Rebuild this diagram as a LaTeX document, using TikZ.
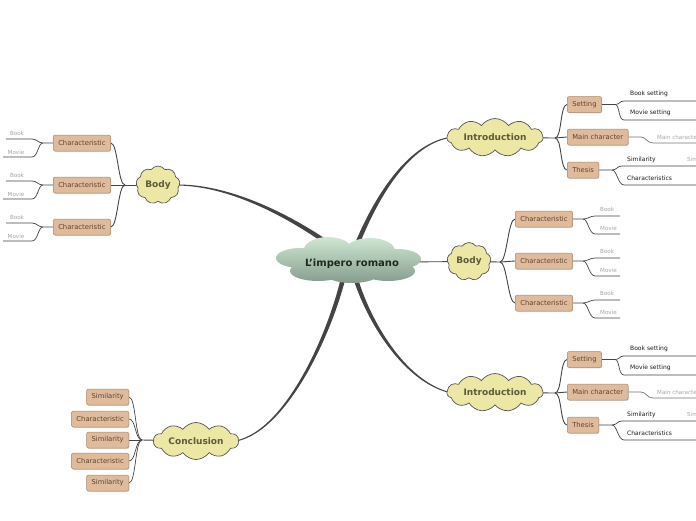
\documentclass[tikz,border=0pt]{standalone}
\usepackage{fontspec}
\setmainfont{DejaVu Sans}
\usetikzlibrary{shapes.symbols,shadows,backgrounds,calc}
\definecolor{yfill}{RGB}{236,231,165}
\definecolor{yline}{RGB}{85,85,85}
\definecolor{ytext}{RGB}{92,90,56}
\definecolor{bfill}{RGB}{223,187,156}
\definecolor{bline}{RGB}{170,135,105}
\definecolor{btext}{RGB}{95,68,48}
\definecolor{gtop}{RGB}{206,232,210}
\definecolor{gbot}{RGB}{134,156,142}
\definecolor{brc}{RGB}{68,68,68}
\definecolor{ltext}{RGB}{165,165,165}
\definecolor{ctext}{RGB}{28,42,28}
\begin{document}
\begin{tikzpicture}[x=1pt,y=-1pt,
  ycloud/.style={cloud, cloud ignores aspect, cloud puffs=#1, cloud puff arc=110, draw=yline, fill=yfill,
    line width=0.7pt, text=ytext, font=\fontsize{9}{10}\selectfont\bfseries, inner sep=0pt},
  topicbox/.style={rectangle, rounded corners=2pt, draw=bline, fill=bfill, text=btext,
    font=\fontsize{6.8}{8}\selectfont, inner xsep=5pt, inner ysep=0pt, minimum height=16pt,
    line width=0.5pt, drop shadow={shadow xshift=0.6pt, shadow yshift=-0.9pt, opacity=0.3}},
  leaf/.style={font=\fontsize{6}{7}\selectfont, text=black!90, inner sep=0pt, anchor=west},
  gleaf/.style={font=\fontsize{5.6}{7}\selectfont, text=ltext, inner sep=0pt, anchor=west},
  conn/.style={draw=brc, line width=0.9pt},
  lline/.style={draw=brc, line width=0.7pt},
  branch/.style={fill=brc, draw=none}]
\useasboundingbox (0,0) rectangle (696,520);
\clip (0,0) rectangle (696,520);

% ---------- centre ----------
\node[inner sep=0pt, minimum width=145pt, minimum height=46pt] (c) at (348.5,260) {};
\shade[top color=gtop, bottom color=gbot]
  (328,250) ellipse [x radius=24, y radius=13]
  (370,251) ellipse [x radius=25, y radius=13]
  (300,258) ellipse [x radius=24, y radius=10]
  (398,259) ellipse [x radius=23, y radius=10]
  (318,271) ellipse [x radius=28, y radius=10]
  (352,273) ellipse [x radius=28, y radius=10]
  (388,271) ellipse [x radius=27, y radius=10]
  (349,262) ellipse [x radius=50, y radius=14];
\node[font=\fontsize{10}{12}\selectfont\bfseries, text=ctext, inner sep=0pt] (ct) at (352,264) {L'impero romano};

% ---------- introductions ----------
\foreach \dy/\k in {0/a,255/b}{
  \node[ycloud=11, minimum width=96pt, minimum height=38pt] (intro\k) at (495,{137.5+\dy}) {Introduction};
  \coordinate (ji\k) at (555,{138+\dy});
  \node[topicbox, anchor=west] (set\k) at (567,{104.5+\dy}) {Setting};
  \node[topicbox, anchor=west] (mc\k) at (567,{137+\dy}) {Main character};
  \node[topicbox, anchor=west] (th\k) at (567,{170+\dy}) {Thesis};
  \coordinate (js\k) at (615,{104.5+\dy});
  \coordinate (bsA\k) at (624,{101+\dy}); \coordinate (bsB\k) at (696,{101+\dy});
  \coordinate (msA\k) at (624,{120+\dy}); \coordinate (msB\k) at (696,{120+\dy});
  \node[leaf] (bst\k) at (630,{94+\dy}) {Book setting};
  \node[leaf] (mst\k) at (630,{113+\dy}) {Movie setting};
  \coordinate (jm\k) at (641,{137+\dy});
  \coordinate (mcA\k) at (653,{143+\dy}); \coordinate (mcB\k) at (696,{143+\dy});
  \node[gleaf] (mct\k) at (657,{137+\dy}) {Main character};
  \coordinate (jt\k) at (612,{170+\dy});
  \coordinate (siA\k) at (622,{166+\dy}); \coordinate (siB\k) at (696,{166+\dy});
  \coordinate (chA\k) at (624,{185+\dy}); \coordinate (chB\k) at (696,{185+\dy});
  \node[leaf] (sit\k) at (627,{160+\dy}) {Similarity};
  \node[gleaf] (sis\k) at (687,{160+\dy}) {Similarity};
  \node[leaf] (cht\k) at (627,{178+\dy}) {Characteristics};
  \begin{scope}[on background layer]
    \draw[conn] (intro\k.center) -- (ji\k);
    \draw[conn] (ji\k) .. controls +(7,0) and +(-7,0) .. (set\k.west);
    \draw[conn] (ji\k) -- (mc\k.west);
    \draw[conn] (ji\k) .. controls +(7,0) and +(-7,0) .. (th\k.west);
    \draw[lline] (set\k.east) -- (js\k) .. controls +(5,0) and +(-5,0) .. (bsA\k) -- (bsB\k);
    \draw[lline] (js\k) .. controls +(5,0) and +(-6,0) .. (msA\k) -- (msB\k);
    \draw[lline, draw=brc!75] (mc\k.east) -- (jm\k) .. controls +(5,0) and +(-6,0) .. (mcA\k) -- (mcB\k);
    \draw[lline] (th\k.east) -- (jt\k) .. controls +(5,0) and +(-5,0) .. (siA\k) -- (siB\k);
    \draw[lline] (jt\k) .. controls +(5,0) and +(-6,0) .. (chA\k) -- (chB\k);
  \end{scope}
}

% ---------- body right ----------
\node[ycloud=9, minimum width=44pt, minimum height=38pt] (bodyr) at (469,261.5) {Body};
\coordinate (jbr) at (500,262);
\coordinate (cR) at (400,262);
\begin{scope}[on background layer]
  \draw[conn] (cR) -- (bodyr.center);
  \draw[conn] (bodyr.center) -- (jbr);
\end{scope}
\foreach \y/\n in {219/1,261/2,303/3}{
  \node[topicbox, anchor=west] (chr\n) at (515,\y) {Characteristic};
  \coordinate (jr\n) at (583,\y);
  \coordinate (rbA\n) at (595,{\y-3}); \coordinate (rbB\n) at (620,{\y-3});
  \coordinate (rmA\n) at (595,{\y+15}); \coordinate (rmB\n) at (620,{\y+15});
  \node[gleaf] (rbt\n) at (600,{\y-10}) {Book};
  \node[gleaf] (rmt\n) at (600,{\y+9}) {Movie};
  \begin{scope}[on background layer]
    \draw[conn] (jbr) .. controls +(7,0) and +(-7,0) .. (chr\n.west);
    \draw[lline] (chr\n.east) -- (jr\n) .. controls +(5,0) and +(-5,0) .. (rbA\n) -- (rbB\n);
    \draw[lline] (jr\n) .. controls +(5,0) and +(-6,0) .. (rmA\n) -- (rmB\n);
  \end{scope}
}

% ---------- body left ----------
\node[ycloud=9, minimum width=44pt, minimum height=38pt] (bodyl) at (158,185) {Body};
\coordinate (jbl) at (125,185);
\begin{scope}[on background layer]
  \draw[conn] (bodyl.center) -- (jbl);
\end{scope}
\foreach \y/\n in {143/1,185/2,227/3}{
  \node[topicbox, anchor=west] (chl\n) at (53,\y) {Characteristic};
  \coordinate (jl\n) at (43,\y);
  \coordinate (lbA\n) at (32,{\y-4}); \coordinate (lbB\n) at (6,{\y-4});
  \coordinate (lmA\n) at (32,{\y+14}); \coordinate (lmB\n) at (3,{\y+14});
  \node[gleaf, anchor=center] (lbt\n) at (17,{\y-10}) {Book};
  \node[gleaf, anchor=center] (lmt\n) at (16,{\y+9}) {Movie};
  \begin{scope}[on background layer]
    \draw[conn] (jbl) .. controls +(-7,0) and +(7,0) .. (chl\n.east);
    \draw[lline] (chl\n.west) -- (jl\n) .. controls +(-5,0) and +(5,0) .. (lbA\n) -- (lbB\n);
    \draw[lline] (jl\n) .. controls +(-5,0) and +(6,0) .. (lmA\n) -- (lmB\n);
  \end{scope}
}

% ---------- conclusion ----------
\node[ycloud=10, minimum width=85pt, minimum height=37pt] (concl) at (196,441) {Conclusion};
\coordinate (jcc) at (142,440);
\begin{scope}[on background layer]
  \draw[conn] (concl.center) -- (jcc);
\end{scope}
\foreach \y/\n/\t in {397/1/Similarity,419/2/Characteristic,440/3/Similarity,461/4/Characteristic,483/5/Similarity}{
  \node[topicbox, anchor=east] (cb\n) at (129,\y) {\t};
  \begin{scope}[on background layer]
    \draw[lline] (jcc) .. controls +(-7,0) and +(7,0) .. (cb\n.east);
  \end{scope}
}

% ---------- tapered main branches ----------
\coordinate (sA) at (354,252);
\coordinate (sB) at (340,252);
\coordinate (sC) at (352,265);
\coordinate (sD) at (346,265);
\begin{scope}[on background layer]
  \fill[branch] ($(sA)+(1.95,1.58)$) .. controls (373.56,206.26) and (405.7,145.57) .. ($(introa.west)+(3,0.5)$)
     -- ($(introa.west)+(3,-0.5)$) .. controls (404.3,144.43) and (370.44,203.74) .. ($(sA)+(-1.95,-1.58)$) -- cycle;
  \fill[branch] ($(sB)+(0.98,-2.3)$) .. controls (300.78,220.16) and (235.2,184.12) .. ($(bodyl.east)+(-3,-0.5)$)
     -- ($(bodyl.east)+(-3,0.5)$) .. controls (234.8,185.88) and (299.22,223.84) .. ($(sB)+(-0.98,2.3)$) -- cycle;
  \fill[branch] ($(sC)+(2,-1.5)$) .. controls (363.6,308.8) and (400.6,379.33) .. ($(introb.west)+(3,-0.5)$)
     -- ($(introb.west)+(3,0.5)$) .. controls (399.4,380.67) and (360.4,311.2) .. ($(sC)+(-2,1.5)$) -- cycle;
  \fill[branch] ($(sD)+(2.13,1.3)$) .. controls (337.7,321.04) and (290.5,430.75) .. ($(concl.east)+(-3,0.5)$)
     -- ($(concl.east)+(-3,-0.5)$) .. controls (289.5,429.25) and (334.3,318.96) .. ($(sD)+(-2.13,-1.3)$) -- cycle;
\end{scope}
\end{tikzpicture}
\end{document}
